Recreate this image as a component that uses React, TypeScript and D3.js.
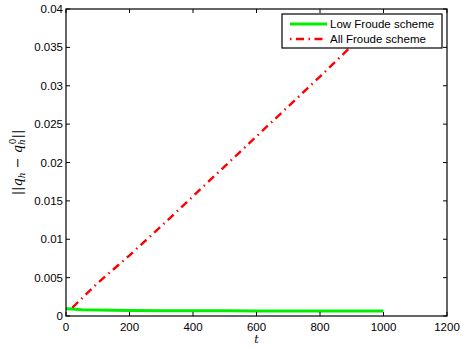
import React from "react";
import * as d3 from "d3";

const xTicks = [0, 200, 400, 600, 800, 1000, 1200];
const yTicks = [0, 0.005, 0.01, 0.015, 0.02, 0.025, 0.03, 0.035, 0.04];
const yTickLabels = ["0", "0.005", "0.01", "0.015", "0.02", "0.025", "0.03", "0.035", "0.04"];

const lowT = [0, 20, 50, 100, 150, 200, 300, 400, 500, 600, 700, 800, 900, 1000];
const lowV = [0.00095, 0.0009, 0.00083, 0.00078, 0.00075, 0.00073, 0.0007, 0.00068, 0.00067, 0.00066, 0.00066, 0.00066, 0.00066, 0.00066];

const allT = [20, 100, 200, 300, 400, 500, 600, 700, 800, 900, 1000];
const allV = [0.0011, 0.0043, 0.0079, 0.0117, 0.0156, 0.0195, 0.0234, 0.0273, 0.0312, 0.0352, 0.0391];

const seriesNames = ["Low Froude scheme", "All Froude scheme"];

const W = 462, H = 350;
const M = { left: 66, right: 447, top: 9, bottom: 316 };
const FONT = "'Liberation Sans', Arial, Helvetica, sans-serif";

export default function App() {
  const x = d3.scaleLinear().domain([0, 1200]).range([M.left, M.right]);
  const y = d3.scaleLinear().domain([0, 0.04]).range([M.bottom, M.top]);
  const line = d3.line<[number, number]>().x(d => x(d[0])).y(d => y(d[1]));
  const lowPath = line(lowT.map((t, i) => [t, lowV[i]] as [number, number])) || "";
  const allPath = line(allT.map((t, i) => [t, allV[i]] as [number, number])) || "";
  const tk = 4;
  const lx = 282, ly = 14, lw = 160, lh = 34;
  return (
    <svg width={W} height={H} style={{ position: "absolute", left: 0, top: 0 }} fontFamily={FONT}>
      <rect x={0} y={0} width={W} height={H} fill="white" />
      <defs>
        <clipPath id="plotclip">
          <rect x={M.left} y={M.top} width={M.right - M.left} height={M.bottom - M.top} />
        </clipPath>
      </defs>
      <g clipPath="url(#plotclip)">
        <path d={lowPath} fill="none" stroke="#00ee00" strokeWidth={3} />
        <path d={allPath} fill="none" stroke="#ff0000" strokeWidth={2.4} strokeDasharray="8,4.5,1.5,4.5" />
      </g>
      <rect x={M.left} y={M.top} width={M.right - M.left} height={M.bottom - M.top} fill="none" stroke="black" strokeWidth={1.2} />
      {xTicks.map(t => (
        <g key={"x" + t}>
          <line x1={x(t)} x2={x(t)} y1={M.bottom} y2={M.bottom - tk} stroke="black" />
          <line x1={x(t)} x2={x(t)} y1={M.top} y2={M.top + tk} stroke="black" />
          <text x={x(t)} y={M.bottom + 15} fontSize={11.5} textAnchor="middle" fill="#000">{t}</text>
        </g>
      ))}
      {yTicks.map((v, i) => (
        <g key={"y" + v}>
          <line x1={M.left} x2={M.left + tk} y1={y(v)} y2={y(v)} stroke="black" />
          <line x1={M.right} x2={M.right - tk} y1={y(v)} y2={y(v)} stroke="black" />
          <text x={M.left - 3} y={y(v) + 4} fontSize={11.5} textAnchor="end" fill="#000">{yTickLabels[i]}</text>
        </g>
      ))}
      <text x={x(600)} y={343} fontSize={11} fontStyle="italic" fontFamily="'DejaVu Serif', serif" textAnchor="middle">t</text>
      <g transform={`translate(22, ${(M.top + M.bottom) / 2}) rotate(-90)`}>
        <text textAnchor="middle" fontSize={13} fontFamily="'DejaVu Serif', 'Liberation Serif', serif">
          <tspan>||</tspan>
          <tspan fontStyle="italic">q</tspan>
          <tspan fontSize={9} fontStyle="italic" dy={3}>h</tspan>
          <tspan dy={-3}> − </tspan>
          <tspan fontStyle="italic">q</tspan>
          <tspan fontSize={9} fontStyle="italic" dy={3}>h</tspan>
          <tspan fontSize={9} dx={-5} dy={-9}>0</tspan>
          <tspan dy={6}>||</tspan>
        </text>
      </g>
      <rect x={lx} y={ly} width={lw} height={lh} fill="white" stroke="black" strokeWidth={1.2} />
      <line x1={290} x2={327} y1={24} y2={24} stroke="#00ee00" strokeWidth={3} />
      <line x1={290} x2={327} y1={39} y2={39} stroke="#ff0000" strokeWidth={2.4} strokeDasharray="8,4.5,1.5,4.5" strokeDashoffset={-6} />
      <text x={330} y={28} fontSize={11.5} fill="#000">{seriesNames[0]}</text>
      <text x={330} y={43} fontSize={11.5} fill="#000">{seriesNames[1]}</text>
    </svg>
  );
}
